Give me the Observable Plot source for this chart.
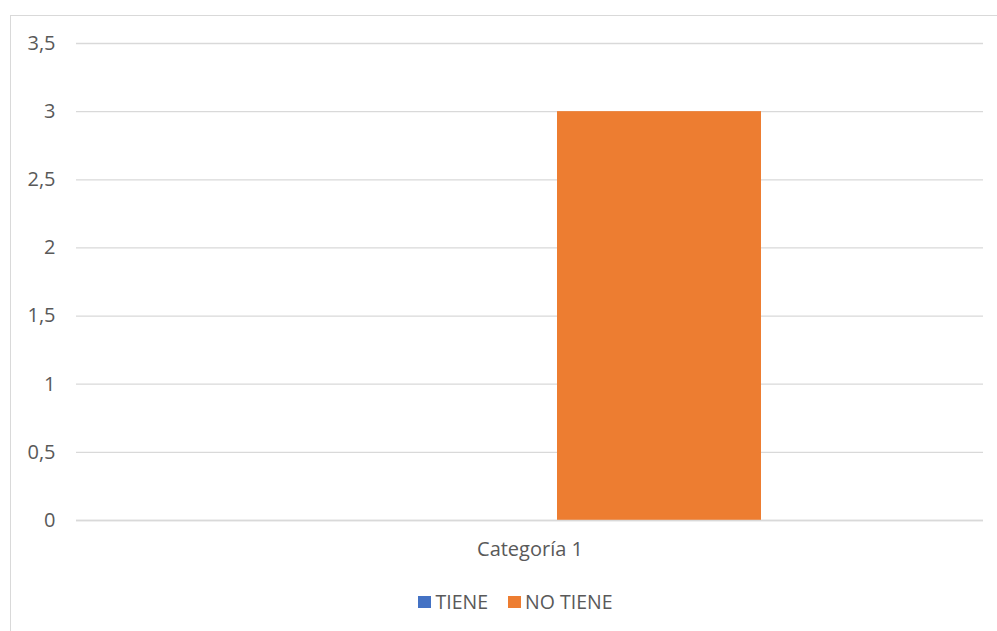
<!DOCTYPE html>
<html><head><meta charset="utf-8">
<script src="https://cdn.jsdelivr.net/npm/d3@7"></script>
<script src="https://cdn.jsdelivr.net/npm/@observablehq/plot@0.6"></script>
<style>
body{margin:0;background:#fff;font-family:"Open Sans",sans-serif;}
#wrap{position:relative;width:997px;height:631px;overflow:hidden;background:#fff;}
#border{position:absolute;left:10px;top:15px;width:1200px;height:1000px;border:1.5px solid #d9d9d9;box-sizing:border-box;}
#chart{position:absolute;left:0;top:0;}
#legend{position:absolute;left:17px;top:588px;width:997px;display:flex;justify-content:center;align-items:center;font-size:19.5px;color:#595959;line-height:28px;}
#legend .item{display:flex;align-items:center;margin:0 10px;}
#legend .sw{width:13px;height:12px;margin-right:4px;}
</style></head>
<body><div id="wrap"><div id="border"></div><div id="chart"></div><div id="legend"></div></div>
<script>
const categories = ["Categoría 1"];
const seriesNames = ["TIENE", "NO TIENE"];
const seriesValues = [[0], [3]];
const seriesColors = ["#4472C4", "#ED7D31"];
const yTicks = [0, 0.5, 1, 1.5, 2, 2.5, 3, 3.5];

const data = [];
seriesNames.forEach((s, i) => categories.forEach((c, j) => data.push({category: c, series: s, value: seriesValues[i][j]})));

const fmt = d => String(d).replace(".", ",");
const plot = Plot.plot({
  width: 997, height: 570,
  marginLeft: 76, marginRight: 14, marginTop: 43, marginBottom: 50,
  style: {fontFamily: "'Open Sans', sans-serif", fontSize: "20px", color: "#595959", background: "transparent"},
  fx: {domain: categories, padding: 0},
  x: {domain: seriesNames, paddingInner: 0.2124, paddingOuter: 0.857, axis: null},
  y: {domain: [0, 3.5], ticks: yTicks},
  color: {domain: seriesNames, range: seriesColors},
  marks: [
    Plot.gridY(yTicks, {stroke: "#d9d9d9", strokeOpacity: 1, strokeWidth: 1.3}),
    Plot.axisY(yTicks, {tickSize: 0, tickPadding: 21, tickFormat: fmt, label: null, fill: "#595959", fontSize: 20}),
    Plot.axisFx({anchor: "bottom", tickSize: 0, tickPadding: 21, label: null, fill: "#595959", fontSize: 20}),
    Plot.barY(data, {fx: "category", x: "series", y: "value", fill: "series"}),
    Plot.ruleY([0], {stroke: "#d9d9d9", strokeWidth: 1.3})
  ]
});
document.getElementById("chart").appendChild(plot);

const legend = document.getElementById("legend");
const colorScale = plot.scale("color");
seriesNames.forEach((s, i) => {
  const item = document.createElement("div");
  item.className = "item";
  const sw = document.createElement("span");
  sw.className = "sw";
  sw.style.background = colorScale.range[i];
  const lab = document.createElement("span");
  lab.textContent = s;
  item.appendChild(sw); item.appendChild(lab);
  legend.appendChild(item);
});
</script></body></html>
